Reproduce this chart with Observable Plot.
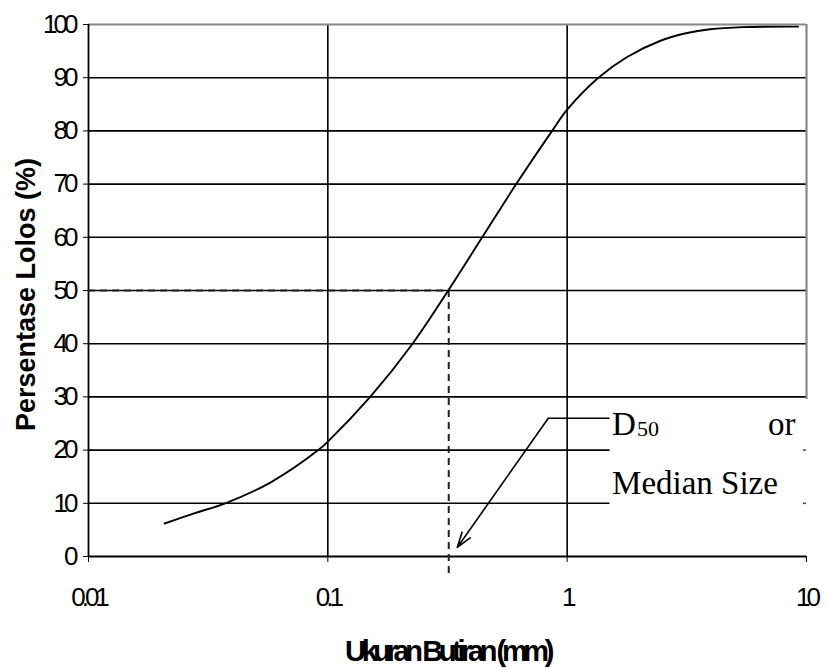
<!DOCTYPE html>
<html>
<head>
<meta charset="utf-8">
<script src="https://cdn.jsdelivr.net/npm/d3@7"></script>
<script src="https://cdn.jsdelivr.net/npm/@observablehq/plot@0.6"></script>
<style>
  body { margin: 0; background: #fff; }
</style>
</head>
<body>
<div id="chart"></div>
<script>
// Grain size distribution (particle size in mm, percent passing)
const grainSize = [0.0208, 0.028, 0.0373, 0.0575, 0.0912, 0.1, 0.1503, 0.226, 0.3185, 0.4416, 0.6124, 0.865, 1.0, 1.35, 1.781, 2.44, 3.17, 3.95, 5.43, 9.22];
const percentPassing = [6.2, 8.2, 10, 13.9, 20, 21.6, 30, 40, 50, 60, 70, 80, 84, 90, 93.9, 96.9, 98.4, 99.1, 99.5, 99.6];

const xTicks = [0.01, 0.1, 1, 10];
const xTickLabels = ["0.01", "0.1", "1", "10"];
const yTicks = [0, 10, 20, 30, 40, 50, 60, 70, 80, 90, 100];

const d50 = 0.32;
const boxLeft = 1.51;      // left edge of the annotation box (mm)
const boxBottom = 29.5;    // top of the annotation box (%)
const stubStart = 9.7;

const leaderY = 26;        // horizontal leader of the arrow
const arrowFrom = {x: 0.834, y: 26};
const arrowTo = {x: 0.3475, y: 1.7};

const annotations = [
  {label: "D", x: 1.54, y: 22.9, size: 33, dx: 0},
  {label: "50", x: 1.54, y: 22.7, size: 22, dx: 25},
  {label: "or", x: 6.9, y: 22.9, size: 33, dx: 0},
  {label: "Median Size", x: 1.54, y: 11.8, size: 33, dx: 0}
];

const data = grainSize.map((d, i) => ({x: d, y: percentPassing[i]}));
const fullGrid = [30, 40, 50, 60, 70, 80, 90];
const partialGrid = [10, 20];

const sans = "'Liberation Sans', Arial, sans-serif";

const chart = Plot.plot({
  width: 827,
  height: 668,
  marginLeft: 88,
  marginRight: 21,
  marginTop: 24,
  marginBottom: 112,
  style: {background: "#fff", color: "#000", fontFamily: sans, fontSize: "26px"},
  x: {
    type: "log",
    domain: [0.01, 10],
    ticks: xTicks,
    tickFormat: d => xTickLabels[xTicks.indexOf(d)],
    tickSize: 6,
    tickPadding: 25,
    label: null
  },
  y: {
    domain: [0, 100],
    ticks: yTicks,
    tickSize: 5,
    tickPadding: 9,
    label: null
  },
  marks: [
    Plot.ruleY(fullGrid, {stroke: "#000", strokeWidth: 1.6}),
    Plot.ruleY(partialGrid, {x1: 0.01, x2: boxLeft, stroke: "#000", strokeWidth: 1.6}),
    Plot.ruleY(partialGrid, {x1: stubStart, x2: 10, stroke: "#555", strokeWidth: 1.6}),
    Plot.ruleX([0.1, 1], {stroke: "#000", strokeWidth: 1.6}),
    Plot.ruleY([100], {stroke: "#888", strokeWidth: 2.2}),
    Plot.ruleX([10], {y1: boxBottom, y2: 100, stroke: "#888", strokeWidth: 2.2}),
    Plot.ruleY([0], {stroke: "#000", strokeWidth: 1.8}),
    Plot.ruleX([0.01], {stroke: "#000", strokeWidth: 1.8}),
    Plot.ruleY([50], {x1: 0.01, x2: d50, stroke: "#222", strokeWidth: 2, strokeDasharray: "7,5"}),
    Plot.ruleX([d50], {y1: -3.2, y2: 50, stroke: "#222", strokeWidth: 2, strokeDasharray: "7,5"}),
    Plot.line(data, {x: "x", y: "y", curve: "catmull-rom", stroke: "#000", strokeWidth: 1.9}),
    Plot.ruleY([leaderY], {x1: arrowFrom.x, x2: boxLeft, stroke: "#000", strokeWidth: 1.5}),
    Plot.arrow([{x1: arrowFrom.x, y1: arrowFrom.y, x2: arrowTo.x, y2: arrowTo.y}],
      {x1: "x1", y1: "y1", x2: "x2", y2: "y2", stroke: "#000", strokeWidth: 1.6, headLength: 15, headAngle: 36}),
    ...annotations.map(a => Plot.text([a], {
      x: "x", y: "y", text: "label", dx: a.dx, textAnchor: "start", lineAnchor: "bottom",
      fontFamily: "'Liberation Serif', 'Times New Roman', serif", fontSize: a.size, fill: "#000"
    })),
    Plot.text(["Persentase Lolos (%)"], {
      frameAnchor: "left", dx: -62, dy: 4, rotate: -90, textAnchor: "middle", lineAnchor: "middle",
      fontFamily: sans, fontWeight: "bold", fontSize: 27, fill: "#000"
    }),
    Plot.text(["Ukuran Butiran (mm)"], {
      frameAnchor: "bottom", dy: 95, textAnchor: "middle", lineAnchor: "middle",
      fontFamily: sans, fontWeight: "bold", fontSize: 29, fill: "#000"
    })
  ]
});

// condensed look of the tick labels and the x title
const svg = d3.select(chart);
svg.selectAll("text").each(function() {
  const t = this.textContent;
  const inAxis = this.closest('[aria-label^="x-axis"], [aria-label^="y-axis"]');
  if (inAxis) {
    d3.select(this).style("font-size", "26px").style("letter-spacing", "-4px")
      .style("font-family", sans).style("fill", "#000");
  }
  if (t === "Ukuran Butiran (mm)") {
    d3.select(this).style("letter-spacing", "-4.4px");
  }
});

document.getElementById("chart").appendChild(chart);
</script>
</body>
</html>
